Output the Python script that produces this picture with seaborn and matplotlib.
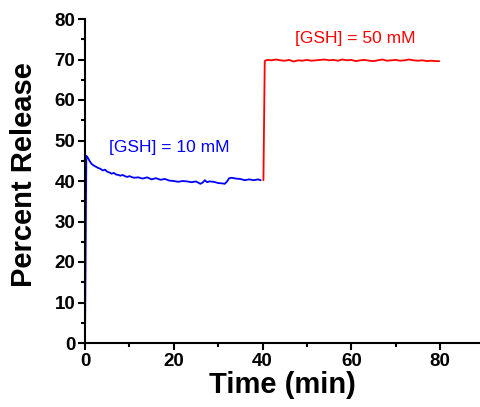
import matplotlib
matplotlib.use("Agg")
import matplotlib.pyplot as plt
from matplotlib.ticker import MultipleLocator
import seaborn as sns
import pandas as pd

# Release profile at 10 mM GSH (first 40 min)
t_10mM = [0, 0.3, 0.6, 1, 1.5, 2, 2.5, 3, 3.5, 4, 4.5, 5, 5.5, 6, 6.5, 7, 7.5,
          8, 8.5, 9, 9.5, 10, 11, 12, 13, 14, 15, 16, 17, 18, 19, 20, 21, 22,
          23, 24, 25, 26, 26.5, 27, 27.5, 28, 29, 30, 31, 31.5, 32, 32.5, 33,
          34, 35, 36, 37, 38, 39, 39.6]
rel_10mM = [0, 46.2, 45.8, 45.0, 44.2, 43.8, 43.5, 43.2, 43.0, 42.6, 42.8, 42.3,
            42.1, 41.8, 42.0, 41.6, 41.5, 41.3, 41.5, 41.2, 41.0, 41.2, 40.8,
            40.9, 40.6, 40.9, 40.4, 40.7, 40.3, 40.5, 40.1, 40.0, 39.8, 40.0,
            39.9, 39.7, 39.9, 39.3, 39.6, 40.2, 39.7, 39.9, 39.8, 39.5, 39.4,
            39.3, 39.9, 40.7, 40.8, 40.6, 40.5, 40.2, 40.4, 40.2, 40.4, 40.2]

# Release profile after raising GSH to 50 mM
t_50mM = [40.2, 40.5, 41, 42, 43, 44, 45, 46, 47, 48, 49, 50, 51, 52, 53, 54,
          55, 56, 57, 58, 59, 60, 61, 62, 63, 64, 65, 66, 67, 68, 69, 70, 71,
          72, 73, 74, 75, 76, 77, 78, 79, 79.8]
rel_50mM = [40.2, 69.6, 69.9, 69.8, 70.0, 69.8, 69.7, 69.9, 69.5, 69.8, 69.7,
            69.9, 69.7, 69.8, 69.9, 70.0, 69.8, 69.9, 69.7, 70.0, 69.8, 69.9,
            69.6, 69.8, 69.9, 69.7, 69.6, 69.8, 70.0, 69.7, 69.8, 69.9, 69.7,
            69.8, 70.0, 69.8, 69.7, 69.8, 69.6, 69.7, 69.6, 69.6]

x_ticks = [0, 20, 40, 60, 80]
y_ticks = [0, 10, 20, 30, 40, 50, 60, 70, 80]

label_10mM = "[GSH] = 10 mM"
label_50mM = "[GSH] = 50 mM"

sns.set_style("ticks")
plt.rcParams["font.family"] = ["Liberation Sans", "DejaVu Sans"]
plt.rcParams["xtick.color"] = "black"
plt.rcParams["ytick.color"] = "black"
plt.rcParams["axes.labelcolor"] = "black"

fig = plt.figure(figsize=(4.8, 4.07), dpi=100)
ax = fig.add_axes([85 / 480, 1 - 343 / 407, 395 / 480, 324 / 407])

df10 = pd.DataFrame({"t": t_10mM, "r": rel_10mM})
df50 = pd.DataFrame({"t": t_50mM, "r": rel_50mM})
sns.lineplot(data=df10, x="t", y="r", ax=ax, color="#0000FF", lw=1.3,
             sort=False, estimator=None)
sns.lineplot(data=df50, x="t", y="r", ax=ax, color="#FF0000", lw=1.3,
             sort=False, estimator=None)

ax.text(19.0, 48.2, label_10mM, color="#0000FF", fontsize=12.5,
        ha="center", va="center")
ax.text(60.9, 75.1, label_50mM, color="#FF0000", fontsize=12.5,
        ha="center", va="center")

ax.set_xlim(0, 89)
ax.set_ylim(0, 80)
ax.set_xticks(x_ticks)
ax.set_xticklabels([str(v) for v in x_ticks], fontweight="bold",
                   color="black")
ax.set_yticks(y_ticks)
ax.set_yticklabels([str(v) for v in y_ticks], fontweight="bold",
                   color="black")
ax.xaxis.set_minor_locator(MultipleLocator(10))
ax.yaxis.set_minor_locator(MultipleLocator(5))

for s in ["top", "right"]:
    ax.spines[s].set_visible(False)
for s in ["left", "bottom"]:
    ax.spines[s].set_linewidth(1.5)
    ax.spines[s].set_color("black")

ax.tick_params(which="major", direction="out", length=5, width=1.5,
               labelsize=13.5, pad=2)
ax.tick_params(which="minor", direction="out", length=3, width=1.5)

ax.set_xlabel("Time (min)", fontsize=21, fontweight="bold")
ax.set_ylabel("Percent Release", fontsize=21, fontweight="bold")
ax.xaxis.set_label_coords(0.5, -0.085)
ax.yaxis.set_label_coords(-0.118, 0.52)

fig.savefig("out.png", dpi=100)
